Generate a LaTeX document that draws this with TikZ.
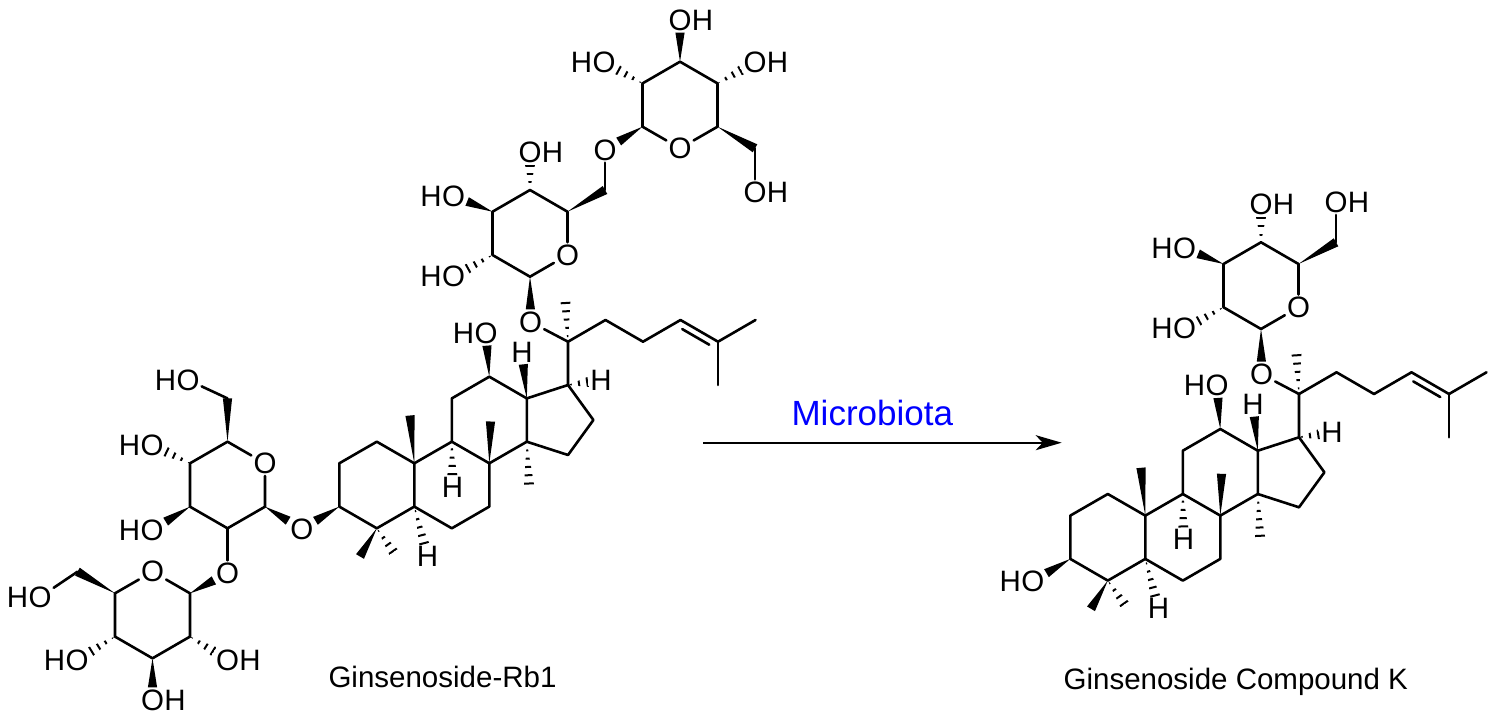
\documentclass[tikz,border=0pt]{standalone}
\usepackage{fontspec}
\newfontfamily\arialf{Liberation Sans}
\usetikzlibrary{calc,arrows.meta}
\definecolor{mblue}{RGB}{0,0,255}
\tikzset{
  bond/.style={line width=2.6pt,line cap=round,line join=round},
  lab/.style={font=\arialf\fontsize{29.5}{30}\selectfont,inner sep=2pt},
  labh/.style={font=\arialf\fontsize{29.5}{30}\selectfont,inner sep=0pt},
  captxt/.style={font=\arialf\fontsize{29.5}{30}\selectfont,inner sep=0pt},
}
% solid wedge: narrow at #1, wide at #2
\newcommand\wdg[2]{%
  \path (#1) -- (#2) coordinate[pos=0] (wS) coordinate[pos=1] (wE);
  \fill (wS) -- ($(wE)!4.6pt!90:(wS)$) -- ($(wE)!4.6pt!-90:(wS)$) -- cycle;}
% hashed wedge: narrow at #1, wide at #2
\newcommand\hsh[2]{%
  \path (#1) -- (#2) coordinate[pos=0] (wS) coordinate[pos=1] (wE);
  \begin{scope}
    \clip (wS) -- ($(wE)!5pt!90:(wS)$) -- ($(wE)!5pt!-90:(wS)$) -- cycle;
    \draw[line width=12pt,dash pattern=on 2pt off 6.3pt] (wE) -- (wS);
  \end{scope}}
% aglycone + inner glucose
\newcommand\core[3]{%
\begin{scope}[shift={(#2,#3)}]
\coordinate (#1c1) at (376.8,441.7);
\coordinate (#1c2) at (339.3,463.3);
\coordinate (#1c3) at (339.3,506.6);
\coordinate (#1c4) at (376.8,528.3);
\coordinate (#1c5) at (414.3,506.6);
\coordinate (#1c10) at (414.3,463.3);
\coordinate (#1c6) at (451.8,528.3);
\coordinate (#1c7) at (489.3,506.6);
\coordinate (#1c8) at (489.3,463.3);
\coordinate (#1c9) at (451.8,441.7);
\coordinate (#1c11) at (451.8,398.4);
\coordinate (#1c12) at (489.3,376.7);
\coordinate (#1c13) at (526.8,398.4);
\coordinate (#1c14) at (526.8,441.7);
\coordinate (#1c15) at (568,455);
\coordinate (#1c16) at (593.4,420);
\coordinate (#1c17) at (568,385);
\coordinate (#1c20) at (568,341.7);
\coordinate (#1c21) at (565.5,302);
\coordinate (#1c22) at (605.5,320);
\coordinate (#1c23) at (643,341.7);
\coordinate (#1c24) at (680.5,320);
\coordinate (#1c25) at (718,341.7);
\coordinate (#1c26) at (755.5,320);
\coordinate (#1c27) at (718,385);
\coordinate (#1m10) at (410,415.5);
\coordinate (#1m8) at (490.5,421.5);
\coordinate (#1m14) at (529,484.5);
\coordinate (#1m4a) at (360,556.5);
\coordinate (#1m4b) at (393.5,552);
\node[lab] (#1o20) at (530.5,322) {O};
\node[lab] (#1o12) at (486,333) {O};
\node[lab] (#1h13) at (522,352) {H};
\node[lab] (#1h17) at (601,380) {H};
\node[lab] (#1h9) at (452.5,487.5) {H};
\node[lab] (#1h5) at (427.5,556.5) {H};
\coordinate (#1g1) at (530,276.7);
\node[lab] (#1gO) at (567.5,255) {O};
\coordinate (#1g5) at (567.5,211.7);
\coordinate (#1g4) at (530,190);
\coordinate (#1g3) at (492.5,211.7);
\coordinate (#1g2) at (492.5,255);
\coordinate (#1g6) at (605,190);
\node[lab] (#1o4g) at (530,152) {O};
\node[lab] (#1o3g) at (453.5,196) {O};
\node[lab] (#1o2g) at (453.5,276.5) {O};
\end{scope}
\node[labh,anchor=base east,xshift=2pt] (#1o12h) at (#1o12.base west) {H};
\node[labh,anchor=base west,xshift=-2pt] (#1o4gh) at (#1o4g.base east) {H};
\node[labh,anchor=base east,xshift=2pt] (#1o3gh) at (#1o3g.base west) {H};
\node[labh,anchor=base east,xshift=2pt] (#1o2gh) at (#1o2g.base west) {H};
\draw[bond] (#1c1) -- (#1c2) -- (#1c3) -- (#1c4) -- (#1c5) -- (#1c10) -- cycle;
\draw[bond] (#1c5) -- (#1c6) -- (#1c7) -- (#1c8) -- (#1c9) -- (#1c10);
\draw[bond] (#1c9) -- (#1c11) -- (#1c12) -- (#1c13) -- (#1c14) -- (#1c8);
\draw[bond] (#1c13) -- (#1c17) -- (#1c16) -- (#1c15) -- (#1c14);
\draw[bond] (#1c17) -- (#1c20) -- (#1c22) -- (#1c23) -- (#1c24) -- (#1c25) -- (#1c26);
\draw[bond] (#1c25) -- (#1c27);
\draw[bond] (#1c20) -- (#1o20);
\draw[bond] ($(#1c24)!0.14!(#1c25)!7pt!-90:(#1c25)$) -- ($(#1c24)!0.86!(#1c25)!7pt!-90:(#1c25)$);
\wdg{#1c10}{#1m10}
\wdg{#1c8}{#1m8}
\wdg{#1c12}{#1o12}
\wdg{#1c13}{#1h13}
\wdg{#1c4}{#1m4a}
\hsh{#1c20}{#1c21}
\hsh{#1c17}{#1h17}
\hsh{#1c9}{#1h9}
\hsh{#1c14}{#1m14}
\hsh{#1c5}{#1h5}
\hsh{#1c4}{#1m4b}
\draw[bond] (#1gO) -- (#1g5) -- (#1g4) -- (#1g3) -- (#1g2) -- (#1g1) -- (#1gO);
\wdg{#1g1}{#1o20}
\wdg{#1g5}{#1g6}
\hsh{#1g4}{#1o4g}
\wdg{#1g3}{#1o3g}
\hsh{#1g2}{#1o2g}
}
\begin{document}
\begin{tikzpicture}[x=1pt,y=-1pt]
\useasboundingbox (0,0) rectangle (1495,722);
\fill[white] (0,0) rectangle (1495,722);
% ---------------- Ginsenoside-Rb1 ----------------
\core{r}{0}{0}
\node[lab] (ro3) at (301.8,529) {O};
\wdg{rc3}{ro3}
\node[lab] (rob) at (605,150) {O};
\draw[bond] (rg6) -- (rob);
% outer glucose
\coordinate (u1) at (642.5,126.7);
\node[lab] (uO) at (680,148.3) {O};
\coordinate (u5) at (717.5,126.7);
\coordinate (u4) at (717.5,83.4);
\coordinate (u3) at (680,61.7);
\coordinate (u2) at (642.5,83.4);
\coordinate (u6) at (755,148.3);
\node[lab] (o2u) at (604,62.5) {O};
\node[labh,anchor=base east,xshift=2pt] (o2uh) at (o2u.base west) {H};
\node[lab] (o3u) at (680,20) {O};
\node[labh,anchor=base west,xshift=-2pt] (o3uh) at (o3u.base east) {H};
\node[lab] (o4u) at (755,62.5) {O};
\node[labh,anchor=base west,xshift=-2pt] (o4uh) at (o4u.base east) {H};
\node[lab] (o6u) at (755,192) {O};
\node[labh,anchor=base west,xshift=-2pt] (o6uh) at (o6u.base east) {H};
\draw[bond] (uO) -- (u5) -- (u4) -- (u3) -- (u2) -- (u1) -- (uO);
\wdg{u1}{rob}
\hsh{u2}{o2u}
\wdg{u3}{o3u}
\hsh{u4}{o4u}
\wdg{u5}{u6}
\draw[bond] (u6) -- (o6u);
% glucose A
\coordinate (a1) at (265,506.7);
\node[lab] (aO) at (265,463.3) {O};
\coordinate (a5) at (227.5,441.7);
\coordinate (a4) at (190,463.3);
\coordinate (a3) at (190,506.7);
\coordinate (a2) at (227.5,528.3);
\coordinate (a6) at (227.5,398.4);
\node[lab] (o6a) at (188,380) {O};
\node[labh,anchor=base east,xshift=2pt] (o6ah) at (o6a.base west) {H};
\node[lab] (o4a) at (152,445) {O};
\node[labh,anchor=base east,xshift=2pt] (o4ah) at (o4a.base west) {H};
\node[lab] (o3a) at (152,530) {O};
\node[labh,anchor=base east,xshift=2pt] (o3ah) at (o3a.base west) {H};
\node[lab] (o2a) at (227.5,573) {O};
\draw[bond] (aO) -- (a5) -- (a4) -- (a3) -- (a2) -- (a1) -- (aO);
\wdg{a1}{ro3}
\wdg{a5}{a6}
\draw[bond] (a6) -- (o6a);
\hsh{a4}{o4a}
\wdg{a3}{o3a}
\draw[bond] (a2) -- (o2a);
% glucose B
\coordinate (b1) at (190,593.3);
\node[lab] (bO) at (152.5,571.7) {O};
\coordinate (b5) at (115,593.3);
\coordinate (b4) at (115,636.6);
\coordinate (b3) at (152.5,658.3);
\coordinate (b2) at (190,636.6);
\coordinate (b6) at (77.5,571.7);
\node[lab] (o6b) at (40,597) {O};
\node[labh,anchor=base east,xshift=2pt] (o6bh) at (o6b.base west) {H};
\node[lab] (o4b) at (77,660) {O};
\node[labh,anchor=base east,xshift=2pt] (o4bh) at (o4b.base west) {H};
\node[lab] (o3b) at (152.5,700) {O};
\node[labh,anchor=base west,xshift=-2pt] (o3bh) at (o3b.base east) {H};
\node[lab] (o2b) at (227.5,660) {O};
\node[labh,anchor=base west,xshift=-2pt] (o2bh) at (o2b.base east) {H};
\draw[bond] (bO) -- (b5) -- (b4) -- (b3) -- (b2) -- (b1) -- (bO);
\wdg{b1}{o2a}
\wdg{b5}{b6}
\draw[bond] (b6) -- (o6b);
\hsh{b4}{o4b}
\wdg{b3}{o3b}
\hsh{b2}{o2b}
% ---------------- Compound K ----------------
\core{k}{731}{52.3}
\node[lab] (ko3) at (1032.8,581.3) {O};
\node[labh,anchor=base east,xshift=2pt] (ko3h) at (ko3.base west) {H};
\wdg{kc3}{ko3}
\node[lab] (ko6) at (1336,202.3) {O};
\node[labh,anchor=base west,xshift=-2pt] (ko6h) at (ko6.base east) {H};
\draw[bond] (kg6) -- (ko6);
% ---------------- arrow and texts ----------------
\coordinate (as) at (703,442.7);
\coordinate (ae) at (1061.7,442.7);
\draw[line width=2.4pt,-{Stealth[length=26pt,width=15pt,inset=7pt]}] (as) -- (ae);
\node[font=\arialf\fontsize{35}{36}\selectfont,text=mblue,inner sep=0pt,anchor=base] (mt) at (872.3,425) {Microbiota};
\node[captxt,anchor=base] (t1) at (442.5,687.3) {Ginsenoside-Rb1};
\node[captxt,anchor=base] (t2) at (1235.8,689.3) {Ginsenoside Compound K};
\end{tikzpicture}
\end{document}
